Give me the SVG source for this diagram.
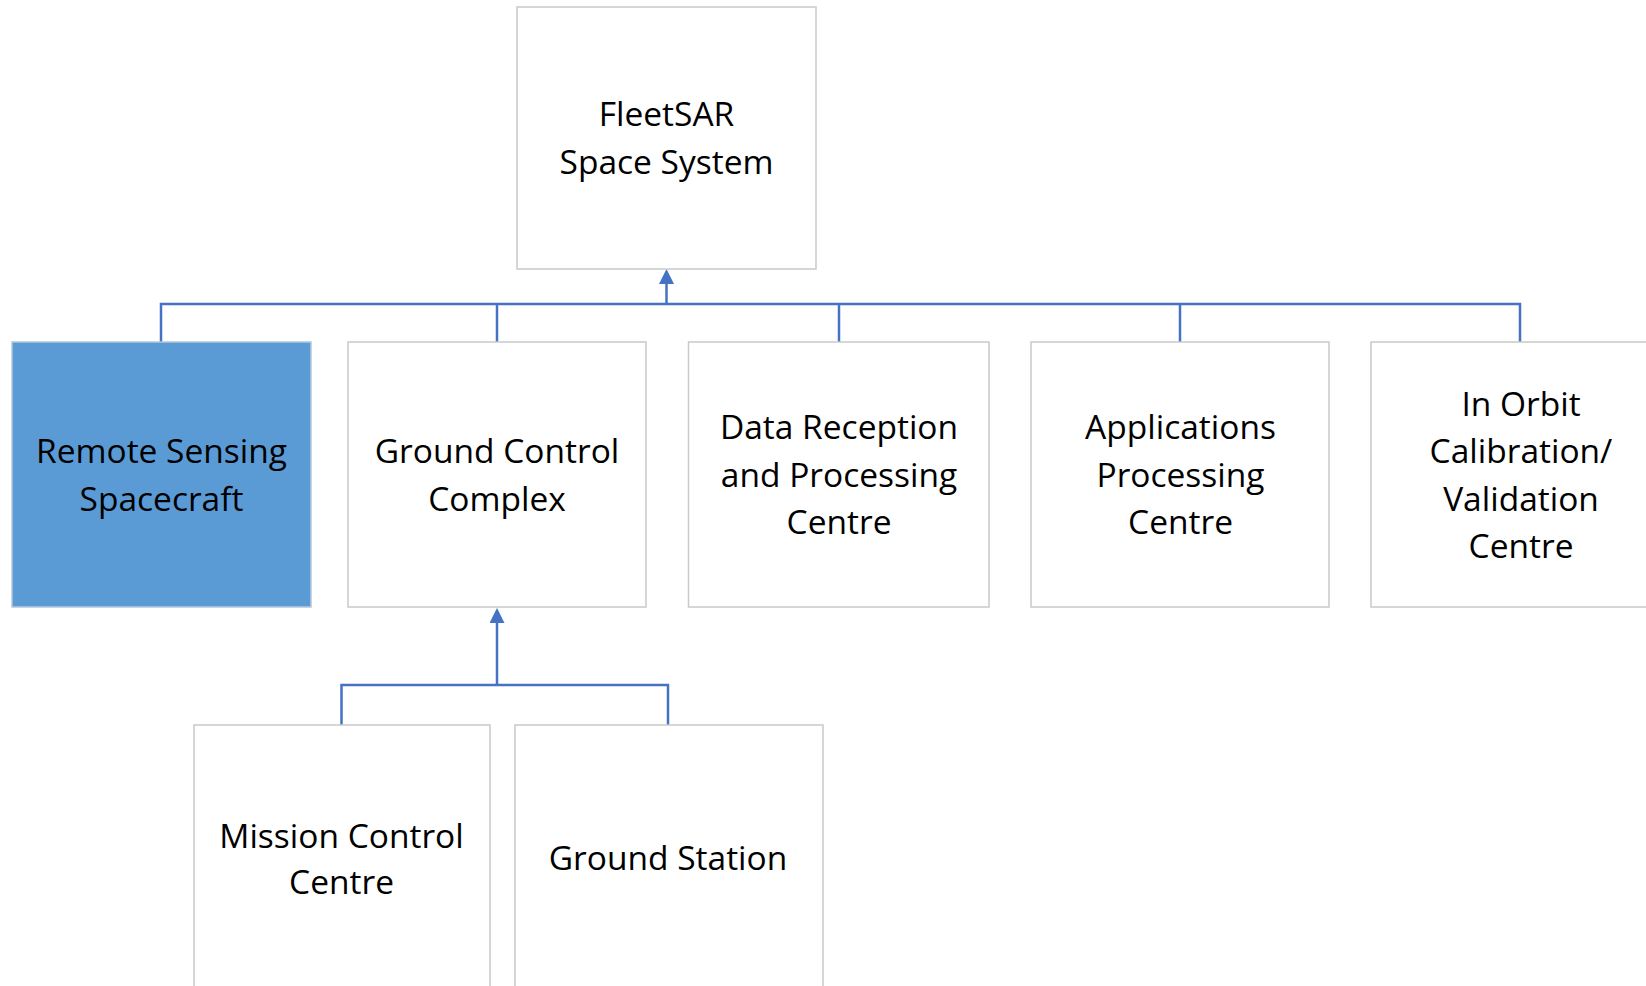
<svg xmlns="http://www.w3.org/2000/svg" width="1646" height="986" viewBox="0 0 1646 986">
<style>
.box{fill:#FFFFFF;stroke:#C9C9C9;stroke-width:1.5}
.hl{fill:#5B9BD5;stroke:#B4C7DC;stroke-width:1.5}
.lbl{font-family:"Open Sans","Liberation Sans",sans-serif;font-size:33.5px;fill:#000000;text-anchor:middle}
.conn{fill:none;stroke:#4472C4;stroke-width:2.5}
</style>
<defs>
<marker id="arr" viewBox="0 0 15 15" refX="12" refY="7.5" markerWidth="15" markerHeight="15" markerUnits="userSpaceOnUse" orient="auto">
<path d="M0,0 L15,7.5 L0,15 z" fill="#4472C4"/>
</marker>
</defs>
<rect width="1646" height="986" fill="#FFFFFF"/>
<g id="connectors">
<path class="conn" d="M161,342 V304 H1520 V342"/>
<path class="conn" d="M497,304 V342"/>
<path class="conn" d="M839,304 V342"/>
<path class="conn" d="M1180,304 V342"/>
<path class="conn" d="M666.5,304 V272" marker-end="url(#arr)"/>
<path class="conn" d="M341.5,725 V685 H668 V725"/>
<path class="conn" d="M497,685 V611" marker-end="url(#arr)"/>
</g>
<g id="node-fleetsar">
<rect class="box" x="517" y="7" width="299" height="262"/>
<text class="lbl" x="666.5" y="126">FleetSAR</text>
<text class="lbl" x="666.5" y="174">Space System</text>
</g>
<g id="node-remote-sensing">
<rect class="hl" x="12" y="342" width="299" height="265"/>
<text class="lbl" x="161.5" y="463">Remote Sensing</text>
<text class="lbl" x="161.5" y="511">Spacecraft</text>
</g>
<g id="node-ground-control">
<rect class="box" x="348" y="342" width="298" height="265"/>
<text class="lbl" x="497" y="463">Ground Control</text>
<text class="lbl" x="497" y="511">Complex</text>
</g>
<g id="node-data-reception">
<rect class="box" x="688.5" y="342" width="300.5" height="265"/>
<text class="lbl" x="839" y="439">Data Reception</text>
<text class="lbl" x="839" y="487">and Processing</text>
<text class="lbl" x="839" y="534">Centre</text>
</g>
<g id="node-applications">
<rect class="box" x="1031" y="342" width="298" height="265"/>
<text class="lbl" x="1180.5" y="439">Applications</text>
<text class="lbl" x="1180.5" y="487">Processing</text>
<text class="lbl" x="1180.5" y="534">Centre</text>
</g>
<g id="node-in-orbit">
<rect class="box" x="1371" y="342" width="320" height="265"/>
<text class="lbl" x="1521" y="416">In Orbit</text>
<text class="lbl" x="1521" y="463">Calibration/</text>
<text class="lbl" x="1521" y="511">Validation</text>
<text class="lbl" x="1521" y="558">Centre</text>
</g>
<g id="node-mission-control">
<rect class="box" x="194" y="725" width="296" height="300"/>
<text class="lbl" x="341.5" y="848">Mission Control</text>
<text class="lbl" x="341.5" y="894">Centre</text>
</g>
<g id="node-ground-station">
<rect class="box" x="515" y="725" width="308" height="300"/>
<text class="lbl" x="668" y="870">Ground Station</text>
</g>
</svg>
